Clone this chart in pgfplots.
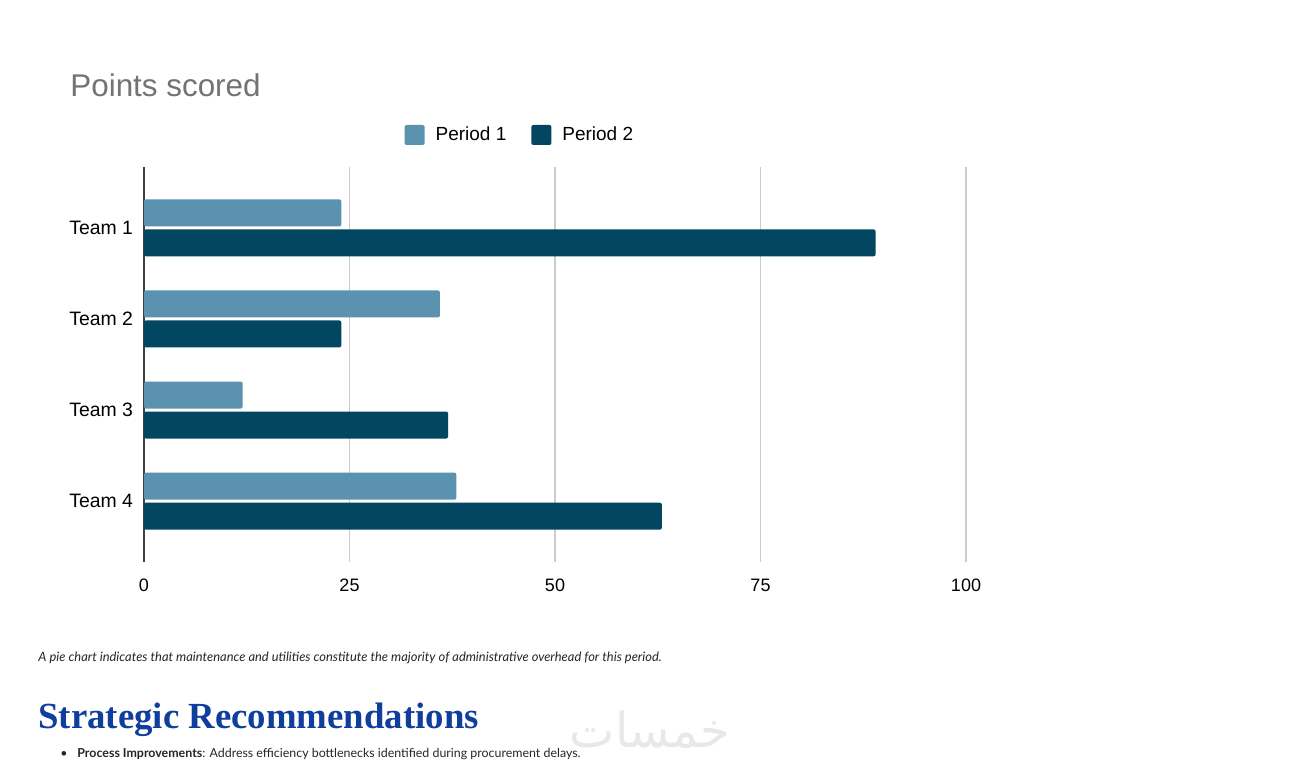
\documentclass[border=0pt]{standalone}
\usepackage{pgfplots}
\pgfplotsset{compat=1.18}
\usepackage{fontspec}
\setmainfont{Liberation Sans}
\newfontfamily\capfont{Lato}
\newfontfamily\headfont{Liberation Serif}
\newfontfamily\arabicfont[Script=Arabic]{DejaVu Sans}
\TeXXeTstate=1
\definecolor{pone}{RGB}{90,146,176}
\definecolor{ptwo}{RGB}{2,70,98}
\definecolor{headblue}{RGB}{16,62,156}
\begin{document}
\begin{tikzpicture}[x=1pt,y=1pt]
\path[use as bounding box, fill=white] (0,0) rectangle (650,382);
\begin{axis}[
  at={(72pt,101pt)}, anchor=south west,
  scale only axis, width=411pt, height=197.5pt,
  xbar, bar width=13.5pt,
  xmin=0, xmax=100,
  ymin=0.332, ymax=4.668, y dir=reverse,
  xtick={0,25,50,75,100},
  ytick={1,2,3,4},
  yticklabels={Team 1,Team 2,Team 3,Team 4},
  major tick length=0pt,
  axis line style={draw=none},
  xmajorgrids, grid style={color=black!20, line width=0.6pt},
  extra x ticks={0}, extra x tick labels={},
  extra x tick style={grid style={color=black!75, line width=0.8pt}},
  tick label style={text=black},
  xticklabel style={font=\fontsize{9}{10}\selectfont, yshift=-5pt},
  yticklabel style={font=\fontsize{9.7}{11}\selectfont, xshift=-2pt},
  /pgf/number format/assume math mode=true,
  legend columns=2,
  legend style={at={(0.4585,1.081)}, anchor=center, draw=none, fill=none,
    font=\fontsize{9.5}{11}\selectfont, column sep=3.5pt,
    /tikz/every even column/.append style={column sep=10.5pt}},
  legend image code/.code={\fill[#1] (0pt,-5pt) rectangle (10pt,5pt);},
  clip=false,
]
\addplot[fill=pone, draw=none, rounded corners=1pt, bar shift=7.5pt] coordinates {(24,1) (36,2) (12,3) (38,4)};
\addplot[fill=ptwo, draw=none, rounded corners=1pt, bar shift=-7.5pt] coordinates {(89,1) (24,2) (37,3) (63,4)};
\legend{Period 1, Period 2}
\end{axis}
\node[anchor=base west, text=black!55, font=\fontsize{15.7}{17}\selectfont, inner sep=0] at (35,333.5) {Points scored};
\node[anchor=base west, font=\capfont\itshape\fontsize{6.45}{7}\selectfont, text=black!85, inner sep=0] at (19,51) {A pie chart indicates that maintenance and utilities constitute the majority of administrative overhead for this period.};
\node[anchor=base west, font=\headfont\bfseries\fontsize{18.4}{20}\selectfont, text=headblue, inner sep=0] at (19,17.5) {Strategic Recommendations};
\node[anchor=base, font=\arabicfont\fontsize{24}{26}\selectfont, text=black!9, inner sep=0] at (325,8) {\beginR خمسات\endR};
\node[anchor=base west, font=\capfont\fontsize{6.2}{7}\selectfont, text=black!85, inner sep=0] at (30,3.2) {\textbullet};
\node[anchor=base west, font=\capfont\fontsize{6.2}{7}\selectfont, text=black!85, inner sep=0] at (38.5,3.2) {\textbf{Process Improvements}: Address efficiency bottlenecks identified during procurement delays.};
\end{tikzpicture}
\end{document}
